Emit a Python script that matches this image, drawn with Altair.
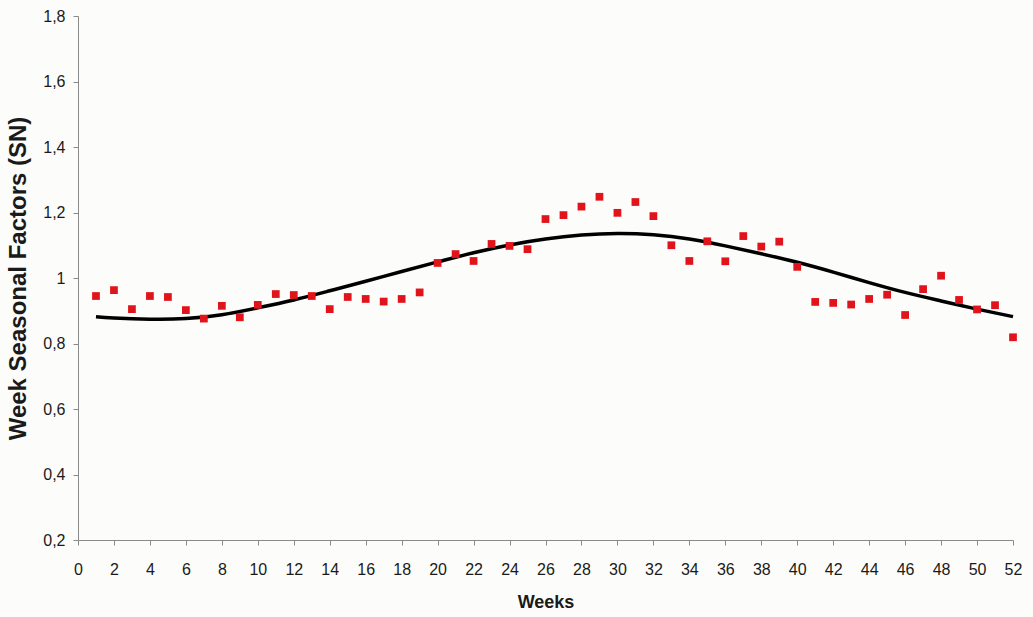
import altair as alt
import pandas as pd

# Observed weekly seasonal factors (red squares)
weeks = list(range(1, 53))
factors = [
    0.945, 0.963, 0.905, 0.945, 0.942, 0.902, 0.876, 0.915, 0.880, 0.918,
    0.951, 0.948, 0.945, 0.905, 0.942, 0.936, 0.928, 0.936, 0.956, 1.046,
    1.073, 1.052, 1.104, 1.098, 1.088, 1.180, 1.192, 1.218, 1.248, 1.199,
    1.232, 1.189, 1.100, 1.052, 1.112, 1.051, 1.128, 1.096, 1.111, 1.034,
    0.927, 0.924, 0.919, 0.936, 0.949, 0.887, 0.966, 1.007, 0.933, 0.904,
    0.917, 0.819,
]

# Fitted smooth curve (black line)
curve_weeks = [1, 2, 4, 6, 8, 10, 12, 14, 16, 18, 20, 22, 24, 26,
               28, 30, 32, 34, 36, 38, 40, 42, 44, 46, 48, 50, 52]
curve_values = [0.882, 0.878, 0.874, 0.876, 0.888, 0.909, 0.933, 0.961, 0.990,
                1.020, 1.049, 1.077, 1.101, 1.119, 1.131, 1.136, 1.132, 1.119,
                1.098, 1.074, 1.048, 1.018, 0.986, 0.956, 0.930, 0.905, 0.882]

x_ticks = list(range(0, 53, 2))
y_ticks = [0.2, 0.4, 0.6, 0.8, 1.0, 1.2, 1.4, 1.6, 1.8]

pts = pd.DataFrame({"week": weeks, "sn": factors})
fit = pd.DataFrame({"week": curve_weeks, "sn": curve_values})

FONT = "Liberation Sans"

x_enc = alt.X(
    "week:Q",
    scale=alt.Scale(domain=[0, 52], nice=False, zero=False),
    axis=alt.Axis(
        title="Weeks",
        values=x_ticks,
        format="d",
        grid=False,
        domainColor="#8a8a8a",
        tickColor="#8a8a8a",
        tickSize=5,
        labelFont=FONT,
        labelFontSize=16,
        labelColor="#1a1a1a",
        labelPadding=16,
        labelFlush=False,
        labelOverlap=False,
        titleFont=FONT,
        titleFontSize=18,
        titleFontWeight="bold",
        titleColor="#1a1a1a",
        titlePadding=16,
    ),
)
y_enc = alt.Y(
    "sn:Q",
    scale=alt.Scale(domain=[0.2, 1.8], nice=False, zero=False),
    axis=alt.Axis(
        title="Week Seasonal Factors (SN)",
        values=y_ticks,
        labelExpr="datum.value == 1 ? '1' : replace(format(datum.value, '.1f'), '.', ',')",
        grid=False,
        domainColor="#8a8a8a",
        tickColor="#8a8a8a",
        tickSize=5,
        labelFont=FONT,
        labelFontSize=16,
        labelColor="#1a1a1a",
        labelPadding=8,
        labelFlush=False,
        labelOverlap=False,
        titleFont=FONT,
        titleFontSize=24,
        titleFontWeight="bold",
        titleColor="#1a1a1a",
        titleX=-60,
        titleY=262,
        titleAlign="center",
        titleBaseline="middle",
    ),
)

points = alt.Chart(pts).mark_square(size=60, color="#e1141b", opacity=1).encode(
    x=x_enc, y=y_enc
)
line = alt.Chart(fit).mark_line(color="#000000", strokeWidth=3.5, interpolate="natural").encode(
    x=x_enc, y=y_enc
)

chart = (
    alt.layer(line, points)
    .properties(
        width=935,
        height=524,
        autosize=alt.AutoSizeParams(type="none"),
        padding={"left": 78, "top": 16, "right": 20, "bottom": 77},
        background="#fcfdfa",
    )
    .configure_view(stroke=None)
    .configure_axis(labelOverlap=False)
)

chart.save("out.html", embed_options={"renderer": "svg", "actions": False})
